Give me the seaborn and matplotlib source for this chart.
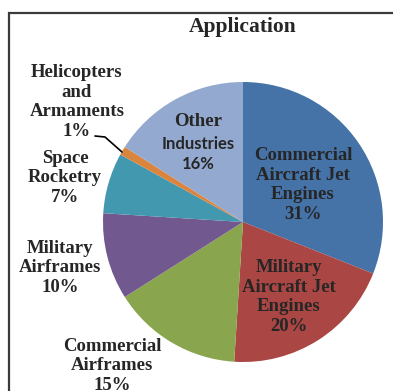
import matplotlib
matplotlib.use("Agg")
import matplotlib.pyplot as plt
import seaborn as sns

# Share of demand by application
categories = [
    "Commercial\nAircraft Jet\nEngines",
    "Military\nAircraft Jet\nEngines",
    "Commercial\nAirframes",
    "Military\nAirframes",
    "Space\nRocketry",
    "Helicopters\nand\nArmaments",
    "Other\nIndustries",
]
shares = [31, 20, 15, 10, 7, 1, 16]
colors = ["#4572A7", "#AA4643", "#89A54E", "#71588F", "#4198AF", "#DB843D", "#93A9CF"]
title = "Application"

sns.set_theme(style="white")
plt.rcParams["font.family"] = ["Liberation Serif", "DejaVu Serif"]

W, H = 393, 391
fig = plt.figure(figsize=(W / 100, H / 100), dpi=100)
ax = fig.add_axes([0, 0, 1, 1])

# pie laid out in pixel-like units (y measured from the bottom)
cx, cy, r = 243, H - 222, 140
ax.pie(shares, colors=sns.color_palette(colors), startangle=90, counterclock=False,
       center=(cx, cy), radius=r, frame=True,
       wedgeprops=dict(linewidth=0))
ax.set_xlim(0, W)
ax.set_ylim(0, H)
ax.set_aspect("equal")
ax.axis("off")

# chart frame
ax.plot([9, 9, W + 5], [-5, H - 12.5, H - 12.5], color="#3a3a3a", lw=1.6,
        solid_joinstyle="miter", clip_on=False)

ax.text(243, H - 27, title, ha="center", va="center", fontsize=15.5, fontweight="bold")

# label placement (pixel positions of label centres)
label_pos = {
    0: (303, 185),
    1: (289, 297),
    2: (112, 366),
    3: (60, 268),
    4: (65, 178),
    5: (77, 102),
}
lbl_kw = dict(ha="center", va="center", fontsize=13.5, fontweight="bold", linespacing=1.2)
for i, (x, y) in label_pos.items():
    ax.text(x, H - y, f"{categories[i]}\n{shares[i]}%", **lbl_kw)

# the "Other Industries" label mixes a serif heading with sans text
first, rest = categories[6].split("\n", 1)
ax.text(198, H - 122, first, **lbl_kw)
ax.text(198, H - 154, f"{rest}\n{shares[6]}%", ha="center", va="center",
        fontsize=12, fontweight="bold", family=["Lato", "DejaVu Sans"], linespacing=1.3)

# leader line for the smallest slice
ax.plot([95, 105, 122], [H - 136, H - 137, H - 152], color="black", lw=1.2)

fig.savefig("out.png", dpi=100)
